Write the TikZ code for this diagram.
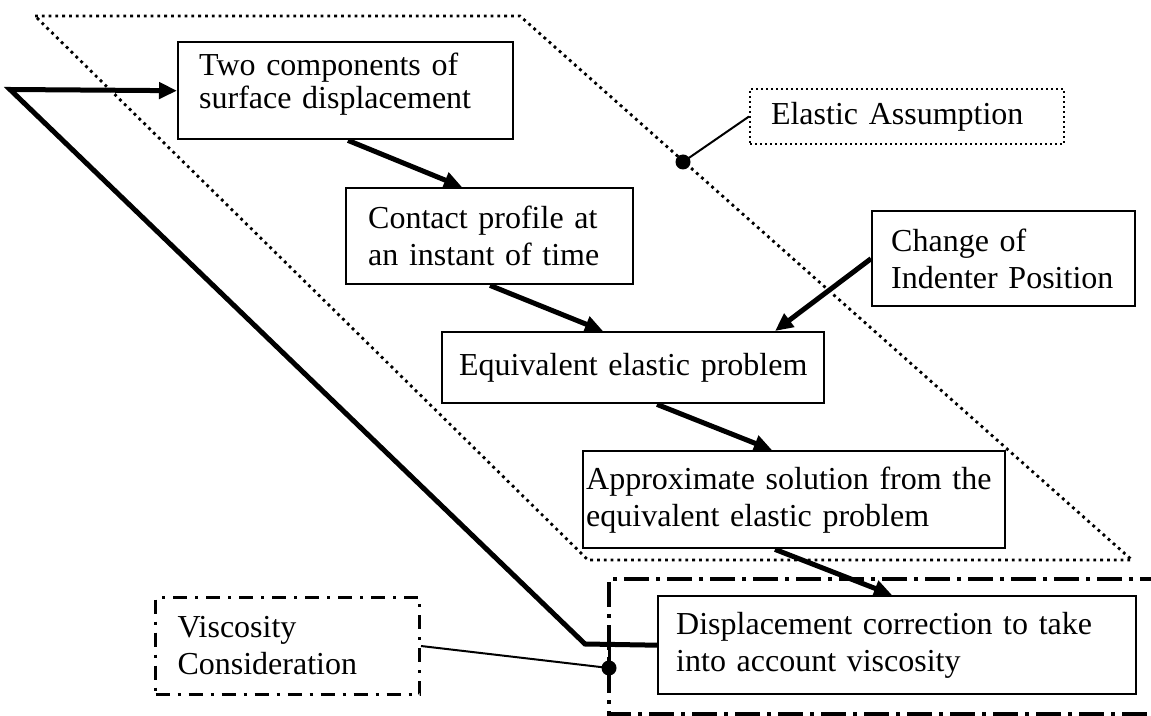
\documentclass[tikz,border=0pt]{standalone}
\usepackage{fontspec}
\setmainfont{Liberation Serif}
\usetikzlibrary{arrows.meta,calc}
\begin{document}
\begin{tikzpicture}[x=0.5pt,y=-0.5pt,
  every node/.style={font=\fontsize{16pt}{18.5pt}\selectfont},
  box/.style={draw, line width=1.2pt, anchor=north west, align=left, inner ysep=0pt},
  flow/.style={line width=2.5pt, -{Triangle[length=9pt,width=8pt]}},
  thinline/.style={line width=1pt},
  blob/.style={circle, fill, inner sep=0pt, minimum size=7.5pt},
  elasticzone/.style={line width=1.4pt, dash pattern=on 1.4pt off 2pt},
  viscozone/.style={line width=1.8pt, dash pattern=on 12.5pt off 3.5pt on 2pt off 3.5pt},
]
\useasboundingbox (0,0) rectangle (1151,716);

% dotted elastic zone
\draw[elasticzone] (35,16) -- (520,16) -- (1132,560) -- (588,560) -- cycle;
% dash-dot viscosity zone
\draw[viscozone] (1165,579) -- (609,579) -- (609,714) -- (1165,714);

% boxes
\node[box, inner xsep=10.5pt, text width=146.5pt, minimum height=48.5pt,
      font=\fontsize{16pt}{16.5pt}\selectfont, text height=11pt, text depth=26pt]
      (b1) at (177,41) {\mbox{Two components of}\\\mbox{surface displacement}};
\node[box, inner xsep=11pt, text width=121.5pt, minimum height=48pt]
      (b2) at (345,187) {\mbox{Contact profile at}\\\mbox{an instant of time}};
\node[box, inner xsep=9.5pt, text width=112.5pt, minimum height=47.5pt]
      (b3) at (871,210) {\mbox{Change of}\\\mbox{Indenter Position}};
\node[box, align=center, inner xsep=0pt, text width=191pt, minimum height=35.5pt]
      (b4) at (441,331) {\mbox{Equivalent elastic problem}};
\node[box, inner xsep=1.5pt, text width=208pt, minimum height=48.5pt]
      (b5) at (582,450) {\mbox{Approximate solution from the}\\\mbox{equivalent elastic problem}};
\node[box, inner xsep=9pt, text width=221pt, minimum height=49pt]
      (b6) at (657,595) {\mbox{Displacement correction to take}\\\mbox{into account viscosity}};
\node[box, line width=1.5pt, dash pattern=on 7pt off 4pt on 1.5pt off 4pt,
      inner xsep=11pt, text width=110pt, minimum height=48.5pt]
      (visc) at (154,596) {\mbox{Viscosity}\\\mbox{Consideration}};
\node[box, line width=1pt, dash pattern=on 1pt off 1.5pt,
      inner xsep=10.5pt, text width=136pt, minimum height=27.5pt]
      (ela) at (749,88) {\mbox{Elastic Assumption}};

% dots and thin leaders
\node[blob] (edot) at (683,162) {};
\draw[thinline] (edot.center) -- (ela.west);
\node[blob] (vdot) at (609,668) {};
\draw[thinline] (visc.east) -- (vdot.center);

% feedback loop
\coordinate (k1) at (585,644);
\coordinate (k2) at (10,89.5);
\draw[line width=1.5pt] (vdot.center) -- (vdot |- k1);
\draw[flow] (b6.west) -- (k1) -- (k2) -- (b1.west);

% main flow
\draw[flow] ([xshift=85.5pt]b1.south west) -- ([xshift=58.5pt]b2.north west);
\draw[flow] ([xshift=72.5pt]b2.south west) -- ([xshift=81pt]b4.north west);
\draw[flow] (b3.west) -- ([xshift=167pt]b4.north west);
\draw[flow] ([xshift=108pt]b4.south west) -- ([xshift=95pt]b5.north west);
\draw[flow] ([xshift=96.5pt]b5.south west) -- ([xshift=117.5pt]b6.north west);
\end{tikzpicture}
\end{document}
